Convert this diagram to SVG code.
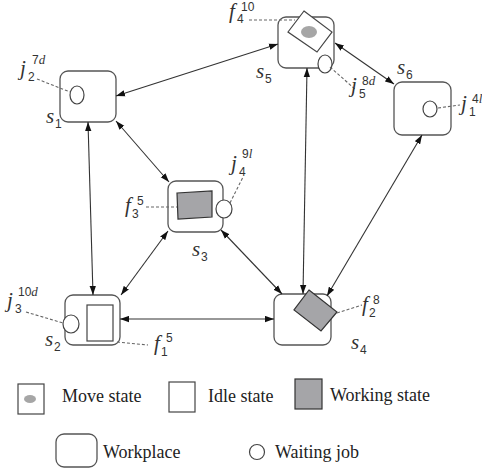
<svg xmlns="http://www.w3.org/2000/svg" width="482" height="469" viewBox="0 0 482 469">
<defs>
<style>
.wp{fill:#fff;stroke:#555;stroke-width:1.3}
.wj{fill:#fff;stroke:#444;stroke-width:1.2}
.wk{fill:#a5a5a8;stroke:#333;stroke-width:1.2}
.idle{fill:#fff;stroke:#444;stroke-width:1.2}
.mv{fill:#a6a6a6;stroke:none}
.cn{stroke:#333;stroke-width:1.1;fill:none;marker-start:url(#ah);marker-end:url(#ah)}
.ld{stroke:#666;stroke-width:1.1;stroke-dasharray:3 2;fill:none}
.m{font-family:"Liberation Serif",serif;font-style:italic;font-size:21px;fill:#333}
.n{font-family:"Liberation Sans","Noto Sans",sans-serif;font-style:normal;font-size:12px;fill:#333}
.ni{font-family:"Liberation Serif",serif;font-style:italic;font-size:13px;fill:#333}
.lg{font-family:"Liberation Serif",serif;font-size:18px;fill:#222}
</style>
<marker id="ah" viewBox="0 0 10 7" markerWidth="9" markerHeight="7" refX="10" refY="3.5" orient="auto-start-reverse" markerUnits="userSpaceOnUse">
<path d="M0,0 L10,3.5 L0,7 z" fill="#111"/>
</marker>
</defs>

<g id="s1">
<rect class="wp" x="60" y="71" width="56" height="51" rx="8"/>
<ellipse class="wj" cx="77" cy="95" rx="7" ry="9"/>
</g>
<g id="s5">
<rect class="wp" x="278" y="17" width="56" height="51" rx="8"/>
<polygon class="idle" points="304,11 332,32 317,52 288,32"/>
<ellipse class="mv" cx="309" cy="32" rx="8" ry="6"/>
<ellipse class="wj" cx="325" cy="64" rx="7" ry="9"/>
</g>
<g id="s6">
<rect class="wp" x="394" y="82" width="57" height="53" rx="8"/>
<ellipse class="wj" cx="430" cy="109" rx="7" ry="8"/>
</g>
<g id="s3">
<rect class="wp" x="168" y="181" width="55" height="51" rx="8"/>
<polygon class="wk" points="177,193 212,191 212,217 178,219"/>
<ellipse class="wj" cx="224" cy="209" rx="8" ry="9"/>
</g>
<g id="s2">
<rect class="wp" x="65" y="295" width="55" height="50" rx="8"/>
<rect class="idle" x="87" y="305" width="26" height="36"/>
<ellipse class="wj" cx="71" cy="324" rx="8" ry="9"/>
</g>
<g id="s4">
<rect class="wp" x="274" y="294" width="57" height="51" rx="8"/>
<polygon class="wk" points="309,290 337,312 321,331 294,310"/>
</g>

<g id="connectors">
<line class="cn" x1="116" y1="96" x2="278" y2="44"/>
<line class="cn" x1="88" y1="122" x2="93" y2="295"/>
<line class="cn" x1="116" y1="121" x2="169" y2="182"/>
<line class="cn" x1="168" y1="231" x2="121" y2="295"/>
<line class="cn" x1="120" y1="319" x2="274" y2="319"/>
<line class="cn" x1="221" y1="230" x2="282" y2="294"/>
<line class="cn" x1="307" y1="68" x2="303" y2="294"/>
<line class="cn" x1="422" y1="135" x2="327" y2="296"/>
<line class="cn" x1="335" y1="43" x2="394" y2="84"/>
</g>

<g id="leaders">
<line class="ld" x1="37" y1="79" x2="70" y2="92"/>
<line class="ld" x1="249" y1="20" x2="295" y2="20"/>
<line class="ld" x1="330" y1="67" x2="356" y2="90"/>
<line class="ld" x1="438" y1="108" x2="460" y2="105"/>
<line class="ld" x1="230" y1="203" x2="243" y2="177"/>
<line class="ld" x1="146" y1="207" x2="177" y2="207"/>
<line class="ld" x1="26" y1="312" x2="63" y2="323"/>
<line class="ld" x1="117" y1="342" x2="148" y2="345"/>
<line class="ld" x1="337" y1="313" x2="362" y2="305"/>
</g>

<g id="labels">
<text class="m" x="20" y="75">j</text><text class="n" x="28" y="81">2</text><text class="n" x="32" y="64">7<tspan class="ni">d</tspan></text>
<text class="m" x="46" y="123">s</text><text class="n" x="55" y="128">1</text>
<text class="m" x="229" y="18">f</text><text class="n" x="237" y="23">4</text><text class="n" x="241" y="11">10</text>
<text class="m" x="256" y="78">s</text><text class="n" x="265" y="83">5</text>
<text class="m" x="397" y="74">s</text><text class="n" x="406" y="79">6</text>
<text class="m" x="351" y="92">j</text><text class="n" x="359" y="98">5</text><text class="n" x="362" y="85">8<tspan class="ni">d</tspan></text>
<text class="m" x="461" y="110">j</text><text class="n" x="469" y="116">1</text><text class="n" x="472" y="103">4<tspan class="ni">l</tspan></text>
<text class="m" x="231" y="170">j</text><text class="n" x="239" y="176">4</text><text class="n" x="242" y="158">9<tspan class="ni">l</tspan></text>
<text class="m" x="125" y="212">f</text><text class="n" x="132" y="218">3</text><text class="n" x="137" y="205">5</text>
<text class="m" x="192" y="256">s</text><text class="n" x="201" y="261">3</text>
<text class="m" x="7" y="307">j</text><text class="n" x="15" y="313">3</text><text class="n" x="18" y="296">10<tspan class="ni">d</tspan></text>
<text class="m" x="45" y="346">s</text><text class="n" x="54" y="351">2</text>
<text class="m" x="154" y="350">f</text><text class="n" x="161" y="356">1</text><text class="n" x="166" y="342">5</text>
<text class="m" x="362" y="311">f</text><text class="n" x="369" y="317">2</text><text class="n" x="373" y="304">8</text>
<text class="m" x="351" y="349">s</text><text class="n" x="360" y="354">4</text>
</g>

<g id="legend">
<rect x="18" y="384" width="26" height="30" fill="#fff" stroke="#444" stroke-width="1.2"/>
<ellipse class="mv" cx="30" cy="399" rx="6" ry="4"/>
<text class="lg" x="62" y="402">Move state</text>
<rect class="idle" x="169" y="382" width="26" height="30" stroke="#666"/>
<text class="lg" x="208" y="402">Idle state</text>
<rect class="wk" x="295" y="379" width="27" height="30"/>
<text class="lg" x="330" y="401">Working state</text>
<rect class="wp" x="56" y="434" width="41" height="33" rx="8"/>
<text class="lg" x="103" y="458">Workplace</text>
<ellipse class="wj" cx="257" cy="452" rx="7.5" ry="7.5"/>
<text class="lg" x="275" y="458">Waiting job</text>
</g>
</svg>
